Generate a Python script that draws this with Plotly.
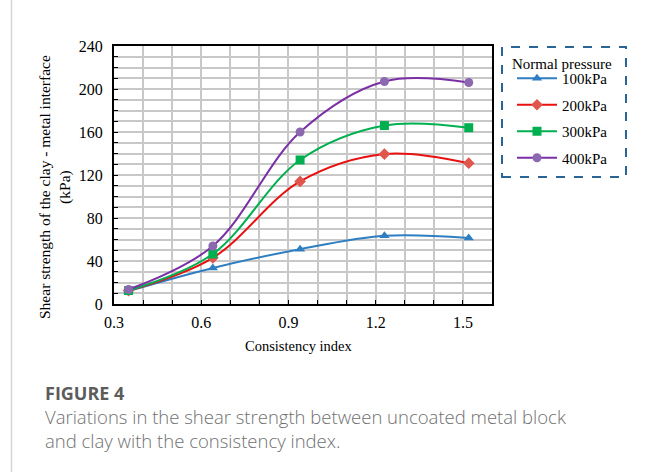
import plotly.graph_objects as go

consistency = [0.35, 0.64, 0.94, 1.23, 1.52]
s100 = [12, 33.5, 51, 63.5, 61.5]
s200 = [12.5, 43, 114, 139.5, 131]
s300 = [12.5, 46.5, 134, 166, 164]
s400 = [13.5, 54, 160, 207, 206]
series_names = ["100kPa", "200kPa", "300kPa", "400kPa"]
line_colors = ["#2E7EC1", "#E8110F", "#00B050", "#7B2FA4"]
marker_colors = ["#2E7EC1", "#E0564C", "#00B050", "#8C68B0"]
symbols = ["triangle-up", "diamond", "square", "circle"]
x_ticks = [0.3, 0.6, 0.9, 1.2, 1.5]
y_ticks = [0, 40, 80, 120, 160, 200, 240]

W, H = 652, 472
L, R, T, B = 114, 160, 46, 168
pw, ph = W - L - R, H - T - B

def px(x):
    return (x - L) / pw

def py(y):
    return 1 - (y - T) / ph

fig = go.Figure()
for i, (name, vals) in enumerate(zip(series_names, [s100, s200, s300, s400])):
    fig.add_trace(go.Scatter(
        x=consistency, y=vals, name=name, mode="lines+markers",
        line=dict(color=line_colors[i], width=2, shape="spline", smoothing=1),
        marker=dict(symbol=symbols[i], color=marker_colors[i], size=9),
        legendgroup=name,
    ))

serif = "Liberation Serif, Times New Roman, serif"
grid = "#C8C8C8"
fig.update_xaxes(
    range=[0.3, 1.6], tickvals=x_ticks, ticktext=[str(v) for v in x_ticks],
    showgrid=True, gridcolor=grid, gridwidth=1.5,
    showline=True, linecolor="black", linewidth=2, mirror=True,
    ticks="inside", ticklen=4, tickcolor="black", tickwidth=1,
    minor=dict(dtick=0.1, tick0=0.3, showgrid=True, gridcolor=grid, gridwidth=1.5,
               ticks="inside", ticklen=4, tickcolor="black"),
    tickfont=dict(family=serif, size=16, color="black"), zeroline=False,
    ticklabelstandoff=3,
)
fig.update_yaxes(
    range=[0, 240], tickvals=y_ticks,
    showgrid=True, gridcolor=grid, gridwidth=1.5,
    showline=True, linecolor="black", linewidth=2, mirror=True,
    ticks="inside", ticklen=4, tickcolor="black", tickwidth=1,
    minor=dict(dtick=10, tick0=0, showgrid=True, gridcolor=grid, gridwidth=1.5,
               ticks="inside", ticklen=4, tickcolor="black"),
    tickfont=dict(family=serif, size=16, color="black"), zeroline=False,
    ticklabelstandoff=6,
)

annotations = [
    dict(text="Shear strength of the clay - metal interface<br>(kPa)", textangle=-90,
         x=px(55), y=py(187), xref="paper", yref="paper", xanchor="center", yanchor="middle",
         showarrow=False, font=dict(family=serif, size=15.5, color="black")),
    dict(text="Consistency index", x=px(298), y=py(346), xref="paper", yref="paper",
         xanchor="center", yanchor="middle",
         showarrow=False, font=dict(family=serif, size=14.5, color="black")),
    dict(text="Normal pressure", x=px(562), y=py(64), xref="paper", yref="paper",
         xanchor="center", yanchor="middle",
         showarrow=False, font=dict(family=serif, size=15, color="black")),
    dict(text="<b>FIGURE 4</b>", x=px(43), y=py(393), xref="paper", yref="paper",
         xanchor="left", yanchor="middle", showarrow=False,
         font=dict(family="Open Sans", size=18, color="#5C5C5C")),
    dict(text="Variations in the shear strength between uncoated metal block", x=px(43), y=py(416),
         xref="paper", yref="paper", xanchor="left", yanchor="middle", showarrow=False,
         font=dict(family="Open Sans", size=18.5, color="#707070", weight=300)),
    dict(text="and clay with the consistency index.", x=px(43), y=py(440),
         xref="paper", yref="paper", xanchor="left", yanchor="middle", showarrow=False,
         font=dict(family="Open Sans", size=18.5, color="#707070", weight=300)),
]

shapes = [
    dict(type="rect", xref="paper", yref="paper", x0=px(502), x1=px(626), y0=py(177), y1=py(47),
         line=dict(color="#2B6595", width=2, dash="dash")),
    dict(type="line", xref="paper", yref="paper", x0=px(11.5), x1=px(11.5), y0=py(0), y1=py(472),
         line=dict(color="#D5D5D5", width=1.5)),
]

fig.update_layout(
    width=W, height=H, margin=dict(l=L, r=R, t=T, b=B, autoexpand=False),
    paper_bgcolor="white", plot_bgcolor="white",
    showlegend=True,
    legend=dict(x=px(512), y=py(62), xanchor="left", yanchor="top",
                font=dict(family=serif, size=15, color="black"), itemwidth=40,
                bgcolor="rgba(0,0,0,0)", borderwidth=0, tracegroupgap=4),
    annotations=annotations, shapes=shapes,
)

fig.write_html("out.html", config={"displayModeBar": False},
               post_script="document.body.style.margin='0';document.body.style.padding='0';")
